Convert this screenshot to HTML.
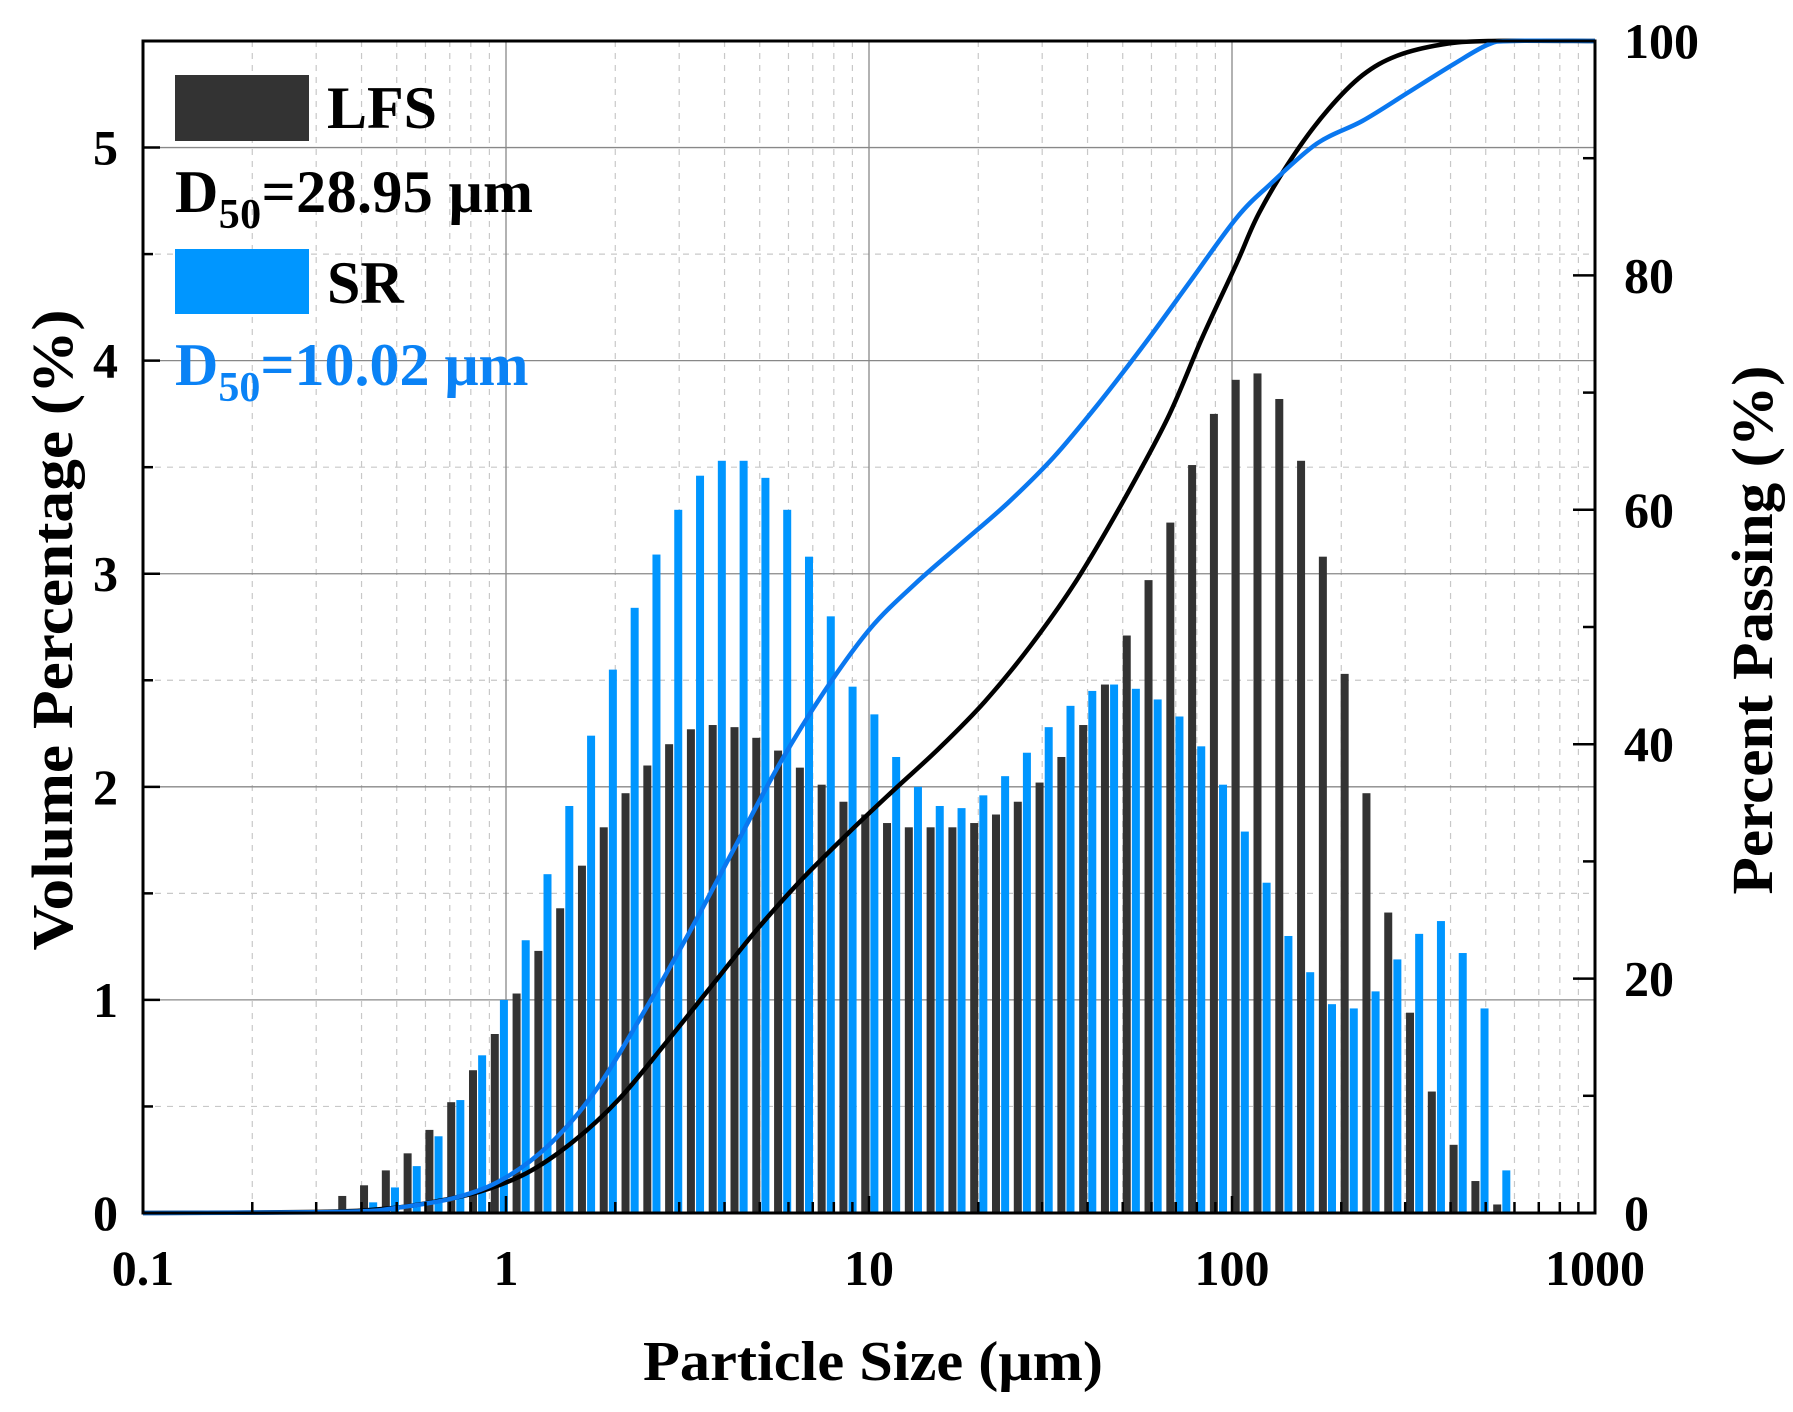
<!DOCTYPE html>
<html><head><meta charset="utf-8"><style>
html,body{margin:0;padding:0;background:#fff;}
svg{display:block;font-family:"Liberation Serif",serif;font-weight:bold;}
</style></head><body>
<svg id="s" width="1793" height="1412" viewBox="0 0 1793 1412" xmlns="http://www.w3.org/2000/svg"></svg>
<script>
const L=143,R=1595,T=41,B=1213,W=R-L,H=B-T;
const xl=v=>L+(Math.log10(v)+1)/4*W;
const yv=v=>B-v/5.5*H;
const dx=d=>L+(d-125)*(W/1268);
const dy=d=>T+(d-35)*(H/1027);
let s='';
for(let e=-1;e<3;e++)for(let m=2;m<10;m++){const x=xl(m*Math.pow(10,e));s+=`<line x1="${x}" y1="${T}" x2="${x}" y2="${B}" stroke="#c8c8c8" stroke-width="1.2" stroke-dasharray="6,6"/>`;}
for(let v=0.5;v<5.5;v+=1){s+=`<line x1="${L}" y1="${yv(v)}" x2="${R}" y2="${yv(v)}" stroke="#c8c8c8" stroke-width="1.2" stroke-dasharray="6,6"/>`;}
for(let e=1;e<4;e++){const x=xl(Math.pow(10,e-1)*1);s+=`<line x1="${x}" y1="${T}" x2="${x}" y2="${B}" stroke="#888" stroke-width="1.3"/>`;}
for(let v=1;v<=5;v++){s+=`<line x1="${L}" y1="${yv(v)}" x2="${R}" y2="${yv(v)}" stroke="#888" stroke-width="1.3"/>`;}
const blk=[0.08,0.13,0.2,0.28,0.39,0.52,0.67,0.84,1.03,1.23,1.43,1.63,1.81,1.97,2.1,2.2,2.27,2.29,2.28,2.23,2.17,2.09,2.01,1.93,1.87,1.83,1.81,1.81,1.81,1.83,1.87,1.93,2.02,2.14,2.29,2.48,2.71,2.97,3.24,3.51,3.75,3.91,3.94,3.82,3.53,3.08,2.53,1.97,1.41,0.94,0.57,0.32,0.15,0.04];
const blu=[0.05,0.12,0.22,0.36,0.53,0.74,1.0,1.28,1.59,1.91,2.24,2.55,2.84,3.09,3.3,3.46,3.53,3.53,3.45,3.3,3.08,2.8,2.47,2.34,2.14,2.0,1.91,1.9,1.96,2.05,2.16,2.28,2.38,2.45,2.48,2.46,2.41,2.33,2.19,2.01,1.79,1.55,1.3,1.13,0.98,0.96,1.04,1.19,1.31,1.37,1.22,0.96,0.2];
const bw=8;
blk.forEach((v,i)=>{const x=dx(299+i*19.03);s+=`<rect x="${x-bw/2}" y="${yv(v)}" width="${bw}" height="${B-yv(v)}" fill="#333"/>`;});
blu.forEach((v,i)=>{const x=dx(326+i*19.03);s+=`<rect x="${x-bw/2}" y="${yv(v)}" width="${bw}" height="${B-yv(v)}" fill="#0096ff"/>`;});
const cb=[[125,1062],[280,1061],[340,1058],[380,1052],[420,1043],[460,1027],[500,1000],[540,963],[580,915],[620,865],[660,815],[700,770],[740,730],[780,692],[820,655],[860,614],[900,565],[940,508],[980,440],[1020,365],[1050,295],[1080,230],[1100,185],[1130,135],[1160,95],[1190,65],[1220,48],[1260,38],[1300,35],[1393,35]];
const cu=[[125,1062],[300,1061],[350,1057],[400,1048],[440,1032],[480,1002],[520,955],[560,890],[600,820],[640,745],[680,670],[720,605],[760,550],[800,510],[840,475],[880,440],[920,400],[960,352],[1000,300],[1040,245],[1080,190],[1110,160],[1150,125],[1190,105],[1230,80],[1270,55],[1300,38],[1320,35],[1393,35]];
function path(p){const q=p.map(a=>[dx(a[0]),dy(a[1])]);let d='M'+q[0][0].toFixed(1)+','+q[0][1].toFixed(1);
for(let i=0;i<q.length-1;i++){const p0=q[Math.max(0,i-1)],p1=q[i],p2=q[i+1],p3=q[Math.min(q.length-1,i+2)];
const c1=[p1[0]+(p2[0]-p0[0])/6,p1[1]+(p2[1]-p0[1])/6],c2=[p2[0]-(p3[0]-p1[0])/6,p2[1]-(p3[1]-p1[1])/6];
d+=`C${c1[0].toFixed(1)},${Math.min(B,c1[1]).toFixed(1)} ${c2[0].toFixed(1)},${Math.max(T,Math.min(B,c2[1])).toFixed(1)} ${p2[0].toFixed(1)},${p2[1].toFixed(1)}`;}return d;}
s+=`<path d="${path(cb)}" fill="none" stroke="#000" stroke-width="4.5" stroke-linejoin="round"/>`;
s+=`<path d="${path(cu)}" fill="none" stroke="#0a78f0" stroke-width="4.5" stroke-linejoin="round"/>`;
s+=`<rect x="${L}" y="${T}" width="${W}" height="${H}" fill="none" stroke="#000" stroke-width="3"/>`;
for(let e=-1;e<3;e++)for(let m=1;m<10;m++){const x=xl(m*Math.pow(10,e));const len=m==1?17:11;s+=`<line x1="${x}" y1="${B}" x2="${x}" y2="${B-len}" stroke="#000" stroke-width="2.5"/>`;}
for(let v=0;v<=5.5;v+=0.5){const len=(v%1==0)?17:10;s+=`<line x1="${L}" y1="${yv(v)}" x2="${L+len}" y2="${yv(v)}" stroke="#000" stroke-width="2.5"/>`;}
for(let p=0;p<=100;p+=10){const y=B-p/100*H;const len=(p%20==0)?22:12;s+=`<line x1="${R}" y1="${y}" x2="${R-len}" y2="${y}" stroke="#000" stroke-width="2.5"/>`;}
for(let v=0;v<=5;v++)s+=`<text x="118" y="${yv(v)+17}" font-size="50" text-anchor="end">${v}</text>`;
for(let p=0;p<=100;p+=20){const y=B-p/100*H;s+=`<text x="1624" y="${y+17}" font-size="50">${p}</text>`;}
['0.1','1','10','100','1000'].forEach((t,i)=>{s+=`<text x="${L+i*W/4}" y="1285" font-size="50" text-anchor="middle">${t}</text>`;});
s+=`<text x="873" y="1380" font-size="56" text-anchor="middle" textLength="460" lengthAdjust="spacingAndGlyphs">Particle Size (μm)</text>`;
s+=`<text transform="translate(72,630) rotate(-90)" font-size="58" text-anchor="middle" textLength="641" lengthAdjust="spacingAndGlyphs">Volume  Percentage (%)</text>`;
s+=`<text transform="translate(1772,630) rotate(-90)" font-size="58" text-anchor="middle" textLength="529" lengthAdjust="spacingAndGlyphs">Percent Passing (%)</text>`;
s+=`<rect x="175" y="75" width="134" height="66" fill="#333"/>`;
s+=`<text x="327" y="128" font-size="60">LFS</text>`;
s+=`<text x="175" y="212" font-size="60" fill="#000" textLength="358">D<tspan font-size="42" dy="16">50</tspan><tspan dy="-16">=28.95 μm</tspan></text>`;
s+=`<rect x="175" y="249" width="134" height="65" fill="#0096ff"/>`;
s+=`<text x="327" y="303" font-size="60">SR</text>`;
s+=`<text x="175" y="385" font-size="60" fill="#0a82f5">D<tspan font-size="42" dy="16">50</tspan><tspan dy="-16">=10.02 μm</tspan></text>`;
document.getElementById('s').innerHTML=s;
</script>
</body></html>
